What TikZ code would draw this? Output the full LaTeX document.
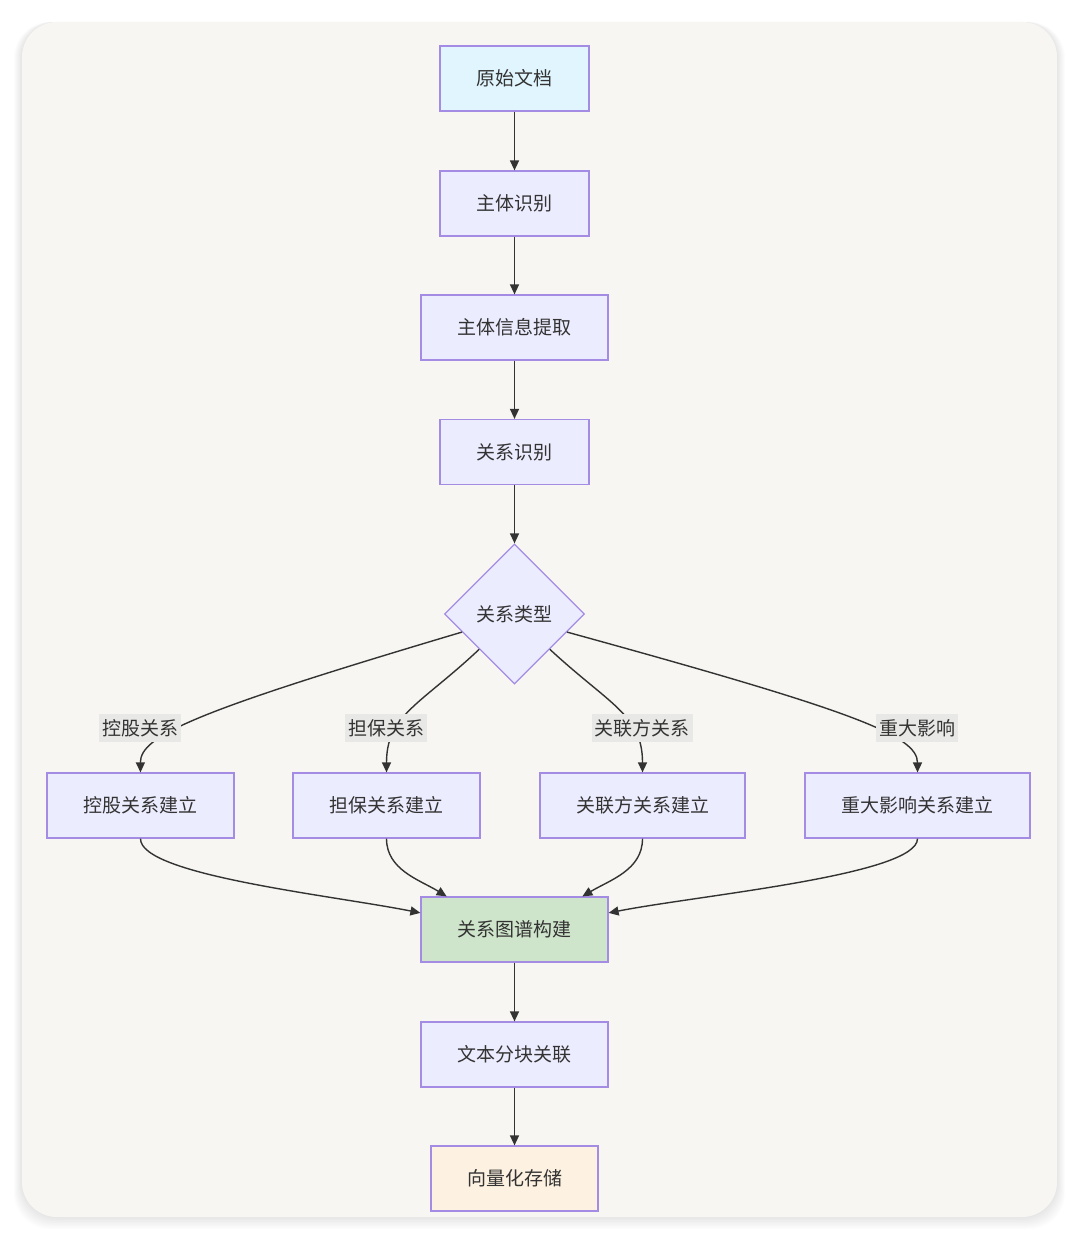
\documentclass[tikz,border=0pt]{standalone}
\usepackage{fontspec}
\setmainfont{Noto Sans CJK SC}
\usetikzlibrary{arrows.meta,shapes.geometric}
\definecolor{card}{HTML}{F7F6F2}
\definecolor{edge}{HTML}{A48BE3}
\definecolor{boxfill}{HTML}{ECECFF}
\definecolor{blue}{HTML}{E1F5FE}
\definecolor{green}{HTML}{CFE5CB}
\definecolor{orange}{HTML}{FDF2E1}
\definecolor{ink}{HTML}{333333}
\definecolor{tag}{HTML}{E8E8E6}
\tikzset{
  box/.style={draw=edge, line width=0.6pt, fill=boxfill, text=ink, minimum height=32.5pt, inner sep=0pt,
    font=\fontsize{9.5}{11}\selectfont},
  choice/.style={box, diamond, aspect=1, minimum width=70pt, minimum height=70pt},
  arr/.style={-{Triangle[length=5pt,width=4.5pt]}, line width=0.7pt, ink},
  tagbox/.style={fill=tag, text=ink, inner xsep=1.5pt, inner ysep=2.5pt, font=\fontsize{9.5}{11}\selectfont}
}

\begin{document}
\begin{tikzpicture}[x=0.5pt, y=-0.5pt]
\useasboundingbox (0,0) rectangle (1080,1240);
\fill[white] (0,0) rectangle (1080,1240);
\foreach \s in {1,...,8}
  \fill[black, opacity=0.012, rounded corners=18pt] (22-\s,22) rectangle (1057+\s,1217+1.5*\s);
\fill[card, rounded corners=17.5pt] (22,22) rectangle (1057,1217);

\node[box, fill=blue, minimum width=74.5pt] (doc) at (514.5,78.5) {原始文档};
\node[box, minimum width=74.5pt] (ent) at (514.5,203.5) {主体识别};
\node[box, minimum width=93.5pt] (info) at (514.5,327.5) {主体信息提取};
\node[box, minimum width=74.5pt] (rel) at (514.5,452) {关系识别};
\node[choice] (typ) at (514.5,614) {关系类型};

\node[box, minimum width=93.5pt] (hold) at (140.5,805.5) {控股关系建立};
\node[box, minimum width=93.5pt] (guar) at (386.5,805.5) {担保关系建立};
\node[box, minimum width=102.5pt] (party) at (642.5,805.5) {关联方关系建立};
\node[box, minimum width=112.5pt] (infl) at (917.5,805.5) {重大影响关系建立};

\node[box, fill=green, minimum width=93.5pt] (graph) at (514.5,929.5) {关系图谱构建};
\node[box, minimum width=93.5pt] (chunk) at (514.5,1054.5) {文本分块关联};
\node[box, fill=orange, minimum width=83.5pt] (vec) at (514.5,1178.5) {向量化存储};

\draw[arr] (doc) -- (ent);
\draw[arr] (ent) -- (info);
\draw[arr] (info) -- (rel);
\draw[arr] (rel) -- (typ);

\draw[arr] (typ.199) .. controls (200,710) and (140,735) .. (hold.north);
\draw[arr] (typ.south west) .. controls (420,705) and (386.5,715) .. (guar.north);
\draw[arr] (typ.south east) .. controls (610,705) and (642.5,715) .. (party.north);
\draw[arr] (typ.341) .. controls (850,710) and (917.5,735) .. (infl.north);

\node[tagbox] (lhold) at (140,728) {控股关系};
\node[tagbox] (lguar) at (386,728) {担保关系};
\node[tagbox] (lparty) at (642,728) {关联方关系};
\node[tagbox] (linfl) at (917,728) {重大影响};

\draw[arr] (hold.south) .. controls (140,875) and (330,895) .. (graph.170);
\draw[arr] (guar.south) .. controls (386.5,870) and (420,880) .. (graph.154);
\draw[arr] (party.south) .. controls (642.5,870) and (610,880) .. (graph.26);
\draw[arr] (infl.south) .. controls (917.5,875) and (700,895) .. (graph.10);

\draw[arr] (graph) -- (chunk);
\draw[arr] (chunk) -- (vec);
\end{tikzpicture}
\end{document}
